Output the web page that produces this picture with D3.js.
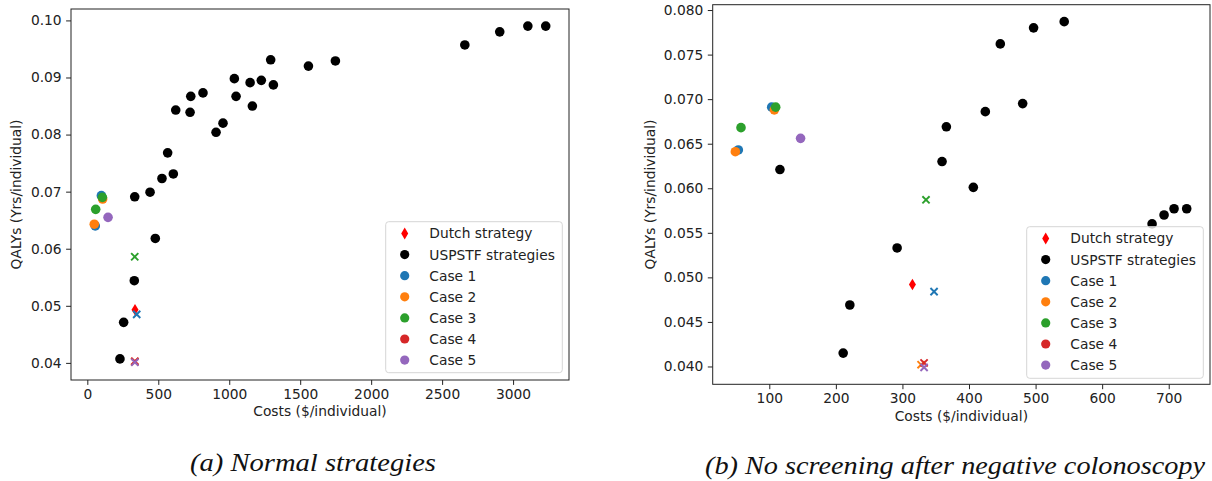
<!DOCTYPE html>
<html>
<head>
<meta charset="utf-8">
<script src="https://cdn.jsdelivr.net/npm/d3@7"></script>
<style>
  body { margin: 0; background: #fff; }
  text { font-family: "DejaVu Sans", sans-serif; fill: #222; }
</style>
</head>
<body>
<svg id="fig" width="1212" height="481"></svg>
<script>
// ---------- Panel (a): normal strategies  [cost $, QALY] ----------
const uspstfA = [[230,0.0407],[256,0.0471],[331,0.0544],[334,0.0691],[442,0.0699],[479,0.0618],
  [526,0.0723],[566,0.0768],[606,0.0731],[623,0.0843],[724,0.0839],[729,0.0867],[815,0.0873],
  [907,0.0804],[956,0.0820],[1036,0.0898],[1048,0.0867],[1147,0.0891],[1163,0.0850],[1226,0.0895],
  [1292,0.0931],[1311,0.0887],[1558,0.0920],[1748,0.0929],[2660,0.0957],[2906,0.0980],
  [3104,0.0990],[3230,0.0990]];
const dutchA = [[336,0.0493]];
const case1CirclesA = [[56,0.0640],[99,0.0693]];
const case1CrossA   = [[348,0.0485]];
const case2CirclesA = [[49,0.0643],[108,0.0687]];
const case2CrossA   = [[334,0.0402]];
const case3CirclesA = [[59,0.0669],[106,0.0690]];
const case3CrossA   = [[334,0.0586]];
const case4CrossA   = [[335,0.0403]];
const case5CirclesA = [[146,0.0655]];
const case5CrossA   = [[335,0.0401]];
const xTicksA = [0,500,1000,1500,2000,2500,3000];
const yTicksA = [0.04,0.05,0.06,0.07,0.08,0.09,0.10];

// ---------- Panel (b): no screening after negative colonoscopy ----------
const uspstfB = [[116,0.0621],[211,0.0415],[221,0.0469],[292,0.0533],[359.5,0.0630],[366,0.0669],
  [406.5,0.0601],[424.5,0.0686],[447,0.0762],[480.6,0.0695],[497,0.0780],[543,0.0787],
  [675,0.0560],[693,0.0570],[708,0.0577],[727,0.0577]];
const dutchB = [[315,0.0492]];
const case1CirclesB = [[53.5,0.0643],[103.6,0.0691]];
const case1CrossB   = [[347.5,0.0484]];
const case2CirclesB = [[49,0.0641],[107.6,0.0688]];
const case2CrossB   = [[328,0.0402]];
const case3CirclesB = [[57.5,0.0668],[109.6,0.0691]];
const case3CrossB   = [[335.4,0.0587]];
const case4CrossB   = [[332.5,0.0404]];
const case5CirclesB = [[147,0.0656]];
const case5CrossB   = [[332.5,0.0399]];
const xTicksB = [100,200,300,400,500,600,700];
const yTicksB = [0.040,0.045,0.050,0.055,0.060,0.065,0.070,0.075,0.080];

const legendLabels = ["Dutch strategy","USPSTF strategies","Case 1","Case 2","Case 3","Case 4","Case 5"];
const legendColors = ["#ff0000","#000000","#1f77b4","#ff7f0e","#2ca02c","#d62728","#9467bd"];
const captions = ["(a) Normal strategies","(b) No screening after negative colonoscopy"];

const svg = d3.select("#fig");
const FS = 13.8;

function diamondPath(cx, cy, w, h) {
  return `M${cx},${cy-h/2}L${cx+w/2},${cy}L${cx},${cy+h/2}L${cx-w/2},${cy}Z`;
}

function drawPanel(cfg) {
  const x = d3.scaleLinear().domain(cfg.xDomain).range([cfg.left, cfg.right]);
  const y = d3.scaleLinear().domain(cfg.yDomain).range([cfg.bottom, cfg.top]);
  const g = svg.append("g");

  // axes
  const xAxis = d3.axisBottom(x).tickValues(cfg.xTicks).tickSize(4.9).tickPadding(4.5).tickFormat(d3.format("d"));
  const yAxis = d3.axisLeft(y).tickValues(cfg.yTicks).tickSize(4.9).tickPadding(4.5).tickFormat(d3.format(cfg.yFmt));
  const gx = g.append("g").attr("transform", `translate(0,${cfg.bottom})`).call(xAxis);
  const gy = g.append("g").attr("transform", `translate(${cfg.left},0)`).call(yAxis);
  [gx, gy].forEach(a => {
    a.select(".domain").remove();
    a.selectAll("line").attr("stroke", "#222").attr("stroke-width", 1);
    a.selectAll("text").attr("font-size", FS).attr("font-family", "DejaVu Sans").attr("fill", "#222");
  });

  const plot = g.append("g");
  const r = 4.8;
  // Dutch strategy (thin diamond)
  plot.selectAll(null).data(cfg.dutch).enter().append("path")
    .attr("d", d => diamondPath(x(d[0]), y(d[1]), 7, 11.5)).attr("fill", "#ff0000");
  // USPSTF strategies
  plot.selectAll(null).data(cfg.uspstf).enter().append("circle")
    .attr("cx", d => x(d[0])).attr("cy", d => y(d[1])).attr("r", r).attr("fill", "#000");

  // cases: circles then crosses, in order
  cfg.cases.forEach((c, i) => {
    const col = legendColors[i + 2];
    plot.selectAll(null).data(c.circles).enter().append("circle")
      .attr("cx", d => x(d[0])).attr("cy", d => y(d[1])).attr("r", r).attr("fill", col);
    const s = 3.6;
    const cross = plot.selectAll(null).data(c.cross).enter().append("g")
      .attr("transform", d => `translate(${x(d[0])},${y(d[1])})`);
    cross.append("path").attr("d", `M${-s},${-s}L${s},${s}M${-s},${s}L${s},${-s}`)
      .attr("stroke", col).attr("stroke-width", 1.9).attr("fill", "none");
  });

  // frame
  g.append("rect").attr("x", cfg.left).attr("y", cfg.top)
    .attr("width", cfg.right - cfg.left).attr("height", cfg.bottom - cfg.top)
    .attr("fill", "none").attr("stroke", "#222").attr("stroke-width", 1);

  // axis labels
  g.append("text").attr("x", (cfg.left + cfg.right) / 2).attr("y", cfg.xLabelY)
    .attr("text-anchor", "middle").attr("font-size", FS).text("Costs ($/individual)");
  g.append("text").attr("transform", `translate(${cfg.yLabelX},${(cfg.top + cfg.bottom) / 2}) rotate(-90)`)
    .attr("text-anchor", "middle").attr("font-size", FS).text("QALYs (Yrs/individual)");

  // legend
  const L = cfg.legend;
  const lg = g.append("g");
  lg.append("rect").attr("x", L.x0).attr("y", L.y0).attr("width", L.x1 - L.x0).attr("height", L.y1 - L.y0)
    .attr("rx", 3).attr("fill", "#fff").attr("fill-opacity", 0.8).attr("stroke", "#d6d6d6").attr("stroke-width", 1);
  legendLabels.forEach((lab, i) => {
    const cy = L.row0 + i * L.step;
    if (i === 0) {
      lg.append("path").attr("d", diamondPath(L.mx, cy, 7, 12)).attr("fill", legendColors[0]);
    } else {
      lg.append("circle").attr("cx", L.mx).attr("cy", cy).attr("r", 4.6).attr("fill", legendColors[i]);
    }
    lg.append("text").attr("x", L.tx).attr("y", cy).attr("dy", "0.36em")
      .attr("font-size", FS).text(lab);
  });

  // caption
  svg.append("text").attr("x", cfg.capX).attr("y", cfg.capY).attr("text-anchor", "middle")
    .attr("font-family", "Liberation Serif, serif").attr("font-style", "italic").attr("font-size", 25)
    .attr("textLength", cfg.capW).attr("lengthAdjust", "spacingAndGlyphs")
    .style("font-family", "'Liberation Serif', serif").style("fill", "#111").text(cfg.caption);
}

drawPanel({
  left: 71, right: 569, top: 9, bottom: 380,
  xDomain: [-115, 3394], yDomain: [0.0370, 0.1020],
  xTicks: xTicksA, yTicks: yTicksA, yFmt: ".2f",
  uspstf: uspstfA, dutch: dutchA,
  cases: [
    {circles: case1CirclesA, cross: case1CrossA},
    {circles: case2CirclesA, cross: case2CrossA},
    {circles: case3CirclesA, cross: case3CrossA},
    {circles: [], cross: case4CrossA},
    {circles: case5CirclesA, cross: case5CrossA}
  ],
  xLabelY: 416, yLabelX: 21,
  legend: {x0: 385.7, y0: 221.7, x1: 562.3, y1: 372.7, mx: 404.7, tx: 429.3, row0: 233.5, step: 21.1},
  caption: captions[0], capX: 313, capY: 471, capW: 246
});

drawPanel({
  left: 712.7, right: 1210, top: 4.7, bottom: 384.3,
  xDomain: [15, 762], yDomain: [0.0380, 0.0806],
  xTicks: xTicksB, yTicks: yTicksB, yFmt: ".3f",
  uspstf: uspstfB, dutch: dutchB,
  cases: [
    {circles: case1CirclesB, cross: case1CrossB},
    {circles: case2CirclesB, cross: case2CrossB},
    {circles: case3CirclesB, cross: case3CrossB},
    {circles: [], cross: case4CrossB},
    {circles: case5CirclesB, cross: case5CrossB}
  ],
  xLabelY: 421, yLabelX: 655,
  legend: {x0: 1026.7, y0: 226.7, x1: 1203.3, y1: 378.3, mx: 1045.7, tx: 1070.3, row0: 238.5, step: 21.1},
  caption: captions[1], capX: 955, capY: 474, capW: 500
});
</script>
</body>
</html>
